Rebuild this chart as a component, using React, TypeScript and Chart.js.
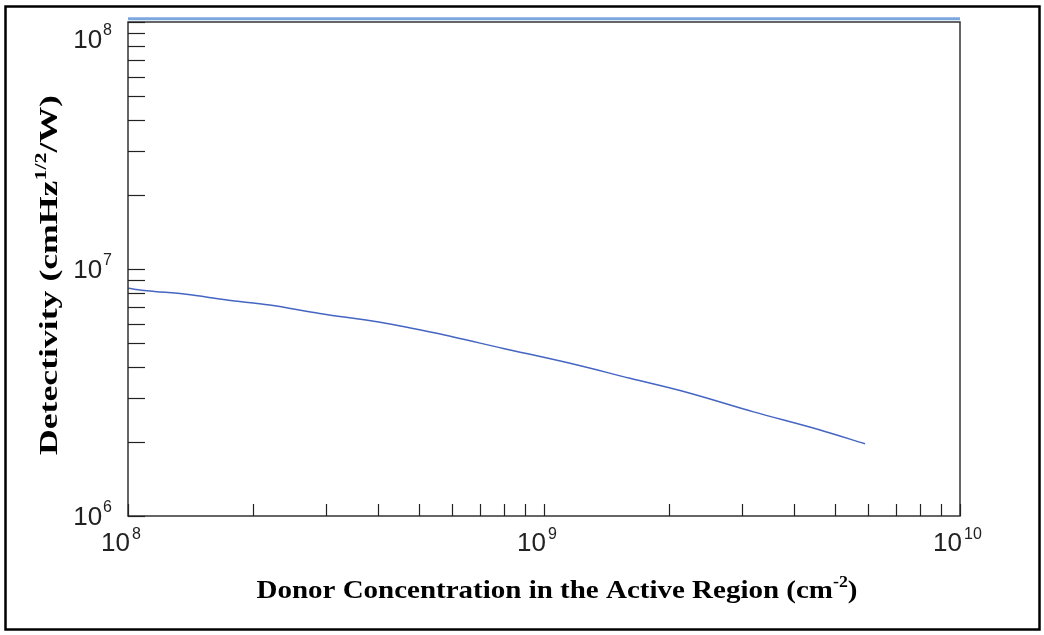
import React, { useEffect, useRef } from "react";
import { Chart, registerables } from "chart.js";
Chart.register(...registerables);

// Donor concentration (cm^-2) and detectivity (cmHz^1/2/W)
const donorConc = [1e8, 1.11e8, 1.38e8, 1.73e8, 2.19e8, 2.89e8, 4.04e8, 5.52e8, 7.98e8, 1.155e9, 1.61e9, 2.2e9, 3.19e9, 4.61e9, 5.91e9];
const detectivity = [8.35e6, 8.17e6, 7.9e6, 7.49e6, 7.15e6, 6.61e6, 6.09e6, 5.49e6, 4.77e6, 4.15e6, 3.61e6, 3.17e6, 2.64e6, 2.23e6, 1.96e6];

// Light-blue line along the top of the frame
const topLineX = [1e8, 1e10];
const topLineY = [1.03e8, 1.03e8];

const xMajor = [1e8, 1e9, 1e10];
const xExp = ["8", "9", "10"];
const yMajor = [1e6, 1e7, 1e8];
const yExp = ["6", "7", "8"];
const minorMult = [2, 3, 4, 5, 6, 7, 8, 9];

const xTitle = "Donor Concentration in the Active Region (cm";
const xTitleSup = "-2";
const xTitleEnd = ")";
const yTitle = "Detectivity (cmHz";
const yTitleSup = "1/2";
const yTitleEnd = "/W)";

function drawTitle(ctx: any, parts: string[], cx: number, by: number, targetW: number) {
  const tb = "bold 26px 'Liberation Serif', 'Times New Roman', serif";
  const ts = "bold 16px 'Liberation Serif', 'Times New Roman', serif";
  ctx.font = tb;
  const w1 = ctx.measureText(parts[0]).width;
  const w3 = ctx.measureText(parts[2]).width;
  ctx.font = ts;
  const w2 = ctx.measureText(parts[1]).width;
  const total = w1 + w2 + w3;
  const sx = targetW / total;
  ctx.save();
  ctx.translate(cx, by);
  ctx.scale(sx, 1);
  const x0 = -total / 2;
  ctx.textAlign = "left";
  ctx.textBaseline = "alphabetic";
  ctx.font = tb;
  ctx.fillText(parts[0], x0, 0);
  ctx.font = ts;
  ctx.fillText(parts[1], x0 + w1, -11);
  ctx.font = tb;
  ctx.fillText(parts[2], x0 + w1 + w2, 0);
  ctx.restore();
}

const decoPlugin = {
  id: "deco",
  afterDraw(chart: any) {
    const ctx = chart.ctx;
    const ca = chart.chartArea;
    const xs = chart.scales.x;
    const ys = chart.scales.y;
    ctx.save();
    // outer border
    ctx.strokeStyle = "#000";
    ctx.lineWidth = 2.5;
    ctx.strokeRect(5.5, 6.5, 1034, 623);
    // frame
    ctx.strokeStyle = "#333";
    ctx.lineWidth = 1.5;
    ctx.strokeRect(ca.left, ca.top, ca.right - ca.left, ca.bottom - ca.top);
    // y ticks (inward)
    ctx.lineWidth = 1.2;
    ctx.strokeStyle = "#222";
    const yVals: number[] = [];
    for (let i = 0; i < yMajor.length; i++) {
      yVals.push(yMajor[i]);
      if (i < yMajor.length - 1) minorMult.forEach((m) => yVals.push(yMajor[i] * m));
    }
    yVals.forEach((v) => {
      const p = Math.round(ys.getPixelForValue(v)) + 0.5;
      ctx.beginPath();
      ctx.moveTo(ca.left, p);
      ctx.lineTo(ca.left + 17, p);
      ctx.stroke();
    });
    const xVals: number[] = [];
    for (let i = 0; i < xMajor.length; i++) {
      xVals.push(xMajor[i]);
      if (i < xMajor.length - 1) minorMult.forEach((m) => xVals.push(xMajor[i] * m));
    }
    xVals.forEach((v) => {
      const p = Math.round(xs.getPixelForValue(v)) + 0.5;
      ctx.beginPath();
      ctx.moveTo(p, ca.bottom);
      ctx.lineTo(p, ca.bottom - 12);
      ctx.stroke();
    });
    // tick labels
    ctx.fillStyle = "#222";
    const big = "26px 'Liberation Sans', Arial, sans-serif";
    const small = "16px 'Liberation Sans', Arial, sans-serif";
    yMajor.forEach((v, i) => {
      let cy = ys.getPixelForValue(v);
      cy = Math.max(cy, ca.top + 17);
      ctx.font = small;
      const sw = ctx.measureText(yExp[i]).width;
      const right = ca.left - 16;
      ctx.textAlign = "left";
      ctx.textBaseline = "alphabetic";
      ctx.fillText(yExp[i], right - sw, cy - 4);
      ctx.font = big;
      ctx.textAlign = "right";
      ctx.fillText("10", right - sw - 1, cy + 9);
    });
    xMajor.forEach((v, i) => {
      const cx = xs.getPixelForValue(v);
      ctx.font = big;
      ctx.textAlign = "right";
      ctx.textBaseline = "alphabetic";
      ctx.fillText("10", cx + 2, ca.bottom + 35);
      ctx.font = small;
      ctx.textAlign = "left";
      ctx.fillText(xExp[i], cx + 4, ca.bottom + 23);
    });
    // titles
    ctx.fillStyle = "#000";
    drawTitle(ctx, [xTitle, xTitleSup, xTitleEnd], 557, 598, 601);
    ctx.save();
    ctx.translate(57, 275);
    ctx.rotate(-Math.PI / 2);
    drawTitle(ctx, [yTitle, yTitleSup, yTitleEnd], 0, 0, 360);
    ctx.restore();
    ctx.restore();
  },
};

export default function App() {
  const ref = useRef<HTMLCanvasElement>(null);
  useEffect(() => {
    if (!ref.current) return;
    const chart = new Chart(ref.current, {
      type: "line",
      data: {
        datasets: [
          {
            data: topLineX.map((x, i) => ({ x, y: topLineY[i] })),
            borderColor: "#7aa7de",
            borderWidth: 3,
            pointRadius: 0,
            clip: false as any,
          },
          {
            data: donorConc.map((x, i) => ({ x, y: detectivity[i] })),
            borderColor: "#4565c2",
            borderWidth: 1.5,
            pointRadius: 0,
            cubicInterpolationMode: "monotone",
          },
        ],
      },
      options: {
        animation: false,
        responsive: false,
        events: [],
        layout: { padding: { top: 22, right: 84, left: 0, bottom: 0 } },
        plugins: { legend: { display: false }, tooltip: { enabled: false } },
        scales: {
          x: {
            type: "logarithmic",
            min: 1e8,
            max: 1e10,
            grid: { display: false },
            border: { display: false },
            ticks: { display: false },
            afterFit: (s: any) => {
              s.height = 119;
            },
          },
          y: {
            type: "logarithmic",
            min: 1e6,
            max: 1e8,
            grid: { display: false },
            border: { display: false },
            ticks: { display: false },
            afterFit: (s: any) => {
              s.width = 128;
            },
          },
        },
      },
      plugins: [decoPlugin],
    });
    return () => chart.destroy();
  }, []);
  return (
    <div style={{ position: "fixed", left: 0, top: 0, width: 1044, height: 635, background: "#fff" }}>
      <canvas ref={ref} width={1044} height={635} style={{ display: "block" }} />
    </div>
  );
}
